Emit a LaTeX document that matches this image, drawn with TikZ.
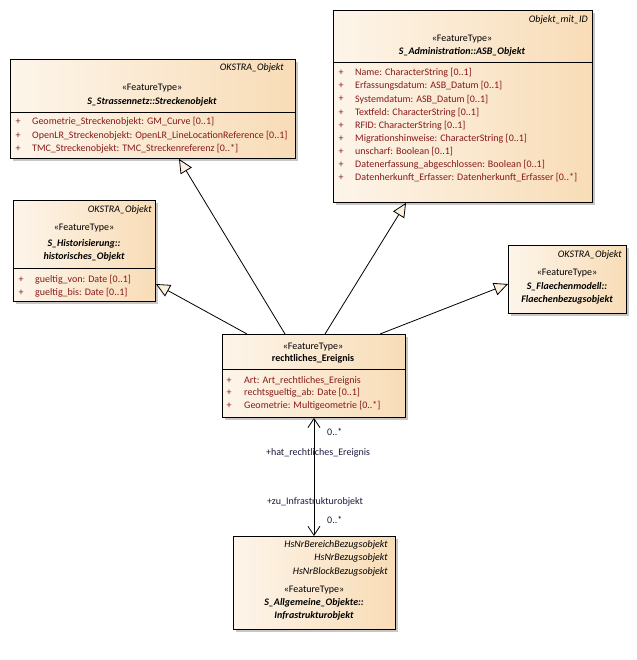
\documentclass[tikz,border=0pt]{standalone}
\usepackage{fontspec}
\setmainfont{Carlito}
\usetikzlibrary{arrows.meta,calc,shadows}
\definecolor{fillL}{RGB}{253,245,234}
\definecolor{fillR}{RGB}{248,220,182}
\definecolor{tipfill}{RGB}{252,240,222}
\definecolor{attr}{RGB}{135,25,25}
\definecolor{lbl}{RGB}{25,25,60}
\begin{document}
\begin{tikzpicture}[x=1pt,y=-1pt,
  umlbox/.style={draw=black, line width=0.9pt, left color=fillL, right color=fillR,
    inner sep=0pt, anchor=north west,
    drop shadow={shadow xshift=3pt, shadow yshift=-3pt, fill=black!22, opacity=1}},
  tx/.style={font=\fontsize{10}{11}\selectfont, inner sep=0pt},
  tag/.style={tx, font=\fontsize{10}{11}\selectfont\itshape, anchor=east},
  stereo/.style={tx, anchor=center},
  cname/.style={tx, font=\fontsize{10}{11}\selectfont\bfseries\itshape, anchor=center},
  plus/.style={tx, text=attr, anchor=center},
  att/.style={tx, text=attr, anchor=west},
  sep/.style={draw=black, line width=0.9pt},
  gen/.style={draw=black, line width=0.8pt, -{Triangle[length=14pt,width=13pt,fill=tipfill,line width=0.8pt]}},
  assoc/.style={draw=black, line width=0.8pt, {Straight Barb[length=9pt,width=12pt,line width=0.8pt]}-{Straight Barb[length=9pt,width=12pt,line width=0.8pt]}},
  albl/.style={tx, text=lbl}
]
\useasboundingbox (0,0) rectangle (636,660);

% ---- Streckenobjekt
\node[umlbox, minimum width=285pt, minimum height=99pt] (stre) at (10,59) {};
\draw[sep] ($(stre.north west)+(0,53)$) -- ($(stre.north east)+(0,53)$);
\node[tag] (stre-t) at (284,68) {OKSTRA\_Objekt};
\node[stereo] (stre-s) at (152,88) {«FeatureType»};
\node[cname] (stre-n) at (152,102) {S\_Strassennetz::Streckenobjekt};
\node[plus] (stre-p1) at (18,122) {+};
\node[att] (stre-a1) at (32,122) {Geometrie\_Streckenobjekt: GM\_Curve [0..1]};
\node[plus] (stre-p2) at (18,136) {+};
\node[att] (stre-a2) at (32,136) {OpenLR\_Streckenobjekt: OpenLR\_LineLocationReference [0..1]};
\node[plus] (stre-p3) at (18,149) {+};
\node[att] (stre-a3) at (32,149) {TMC\_Streckenobjekt: TMC\_Streckenreferenz [0..*]};

% ---- ASB_Objekt
\node[umlbox, minimum width=259pt, minimum height=192pt] (asb) at (333,10) {};
\draw[sep] ($(asb.north west)+(0,52)$) -- ($(asb.north east)+(0,52)$);
\node[tag] (asb-t) at (588,20) {Objekt\_mit\_ID};
\node[stereo] (asb-s) at (462,39) {«FeatureType»};
\node[cname] (asb-n) at (462,52) {S\_Administration::ASB\_Objekt};
\foreach \i/\t in {0/{Name: CharacterString [0..1]},
                   1/{Erfassungsdatum: ASB\_Datum [0..1]},
                   2/{Systemdatum: ASB\_Datum [0..1]},
                   3/{Textfeld: CharacterString [0..1]},
                   4/{RFID: CharacterString [0..1]},
                   5/{Migrationshinweise: CharacterString [0..1]},
                   6/{unscharf: Boolean [0..1]},
                   7/{Datenerfassung\_abgeschlossen: Boolean [0..1]},
                   8/{Datenherkunft\_Erfasser: Datenherkunft\_Erfasser [0..*]}}{
  \node[plus] (asb-p\i) at (341,73+13.1*\i) {+};
  \node[att] (asb-a\i) at (355,73+13.1*\i) {\t};
}

% ---- historisches_Objekt
\node[umlbox, minimum width=142pt, minimum height=101pt] (hist) at (13,200) {};
\draw[sep] ($(hist.north west)+(0,68)$) -- ($(hist.north east)+(0,68)$);
\node[tag] (hist-t) at (152,210) {OKSTRA\_Objekt};
\node[stereo] (hist-s) at (84,228) {«FeatureType»};
\node[cname] (hist-n1) at (84,244) {S\_Historisierung::};
\node[cname] (hist-n2) at (84,257) {historisches\_Objekt};
\node[plus] (hist-p1) at (21,280) {+};
\node[att] (hist-a1) at (35,280) {gueltig\_von: Date [0..1]};
\node[plus] (hist-p2) at (21,293) {+};
\node[att] (hist-a2) at (35,293) {gueltig\_bis: Date [0..1]};

% ---- Flaechenbezugsobjekt
\node[umlbox, minimum width=118pt, minimum height=68pt] (flae) at (508,245) {};
\node[tag] (flae-t) at (622,255) {OKSTRA\_Objekt};
\node[stereo] (flae-s) at (567,273) {«FeatureType»};
\node[cname] (flae-n1) at (567,287) {S\_Flaechenmodell::};
\node[cname] (flae-n2) at (567,300) {Flaechenbezugsobjekt};

% ---- rechtliches_Ereignis
\node[umlbox, minimum width=183pt, minimum height=83pt] (rech) at (222,334) {};
\draw[sep] ($(rech.north west)+(0,35)$) -- ($(rech.north east)+(0,35)$);
\node[stereo] (rech-s) at (313,347) {«FeatureType»};
\node[tx, font=\fontsize{10}{11}\selectfont\bfseries, anchor=center] (rech-n) at (313,359) {rechtliches\_Ereignis};
\node[plus] (rech-p1) at (229,381) {+};
\node[att] (rech-a1) at (244,381) {Art: Art\_rechtliches\_Ereignis};
\node[plus] (rech-p2) at (229,393) {+};
\node[att] (rech-a2) at (244,393) {rechtsgueltig\_ab: Date [0..1]};
\node[plus] (rech-p3) at (229,406) {+};
\node[att] (rech-a3) at (244,406) {Geometrie: Multigeometrie [0..*]};

% ---- Infrastrukturobjekt
\node[umlbox, minimum width=162pt, minimum height=93pt] (infra) at (233,536) {};
\node[tag] (infra-t1) at (388,545) {HsNrBereichBezugsobjekt};
\node[tag] (infra-t2) at (388,558) {HsNrBezugsobjekt};
\node[tag] (infra-t3) at (388,572) {HsNrBlockBezugsobjekt};
\node[stereo] (infra-s) at (314,590) {«FeatureType»};
\node[cname] (infra-n1) at (314,603) {S\_Allgemeine\_Objekte::};
\node[cname] (infra-n2) at (314,616) {Infrastrukturobjekt};

% ---- generalizations
\draw[gen] ($(rech.north west)+(25,0)$) -- ($(hist.north east)+(0,84)$);
\draw[gen] ($(rech.north west)+(63,0)$) -- ($(stre.south west)+(169,0)$);
\draw[gen] ($(rech.north west)+(103,0)$) -- ($(asb.south west)+(73,0)$);
\draw[gen] ($(rech.north west)+(158,0)$) -- ($(flae.north west)+(0,39)$);

% ---- association
\draw[assoc] (rech.south) -- (rech.south |- infra.north);
\node[albl, anchor=west] (m1) at (327,432) {0..*};
\node[albl, anchor=center] (r1) at (318,453) {+hat\_rechtliches\_Ereignis};
\node[albl, anchor=center] (r2) at (315,502) {+zu\_Infrastrukturobjekt};
\node[albl, anchor=west] (m2) at (327,520) {0..*};
\end{tikzpicture}
\end{document}
